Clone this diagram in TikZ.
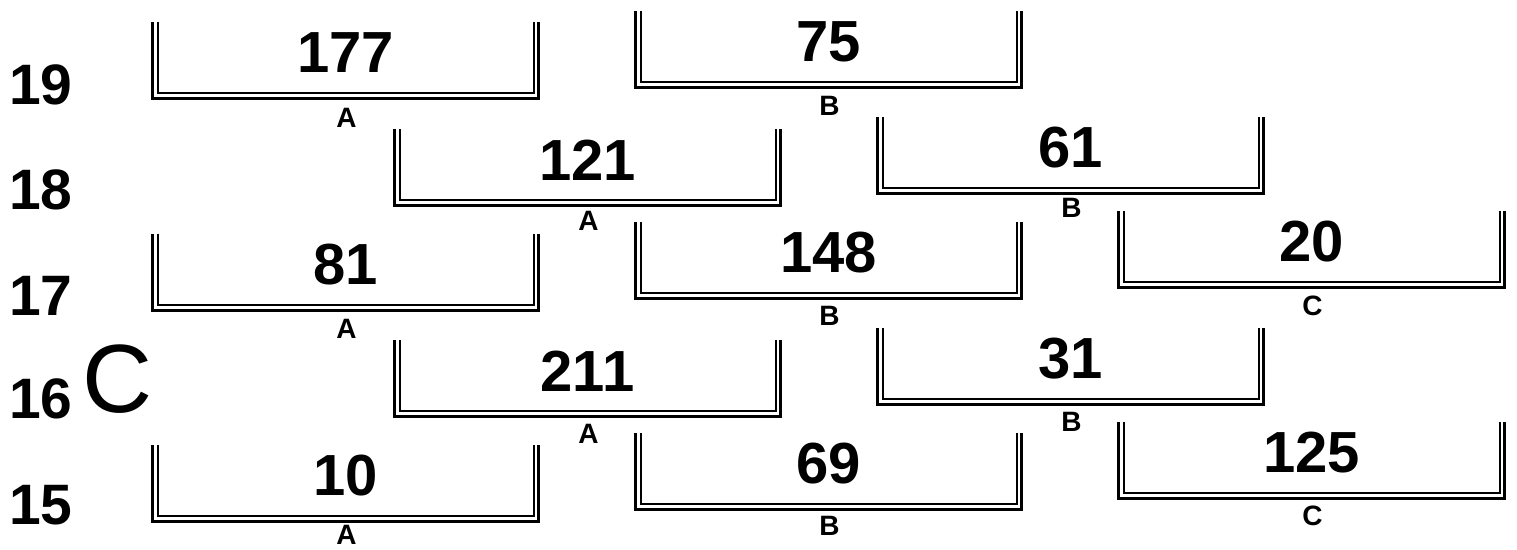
\documentclass[tikz,border=0pt]{standalone}
\usepackage{fontspec}
\setmainfont{Liberation Sans}
\tikzset{
  outerwall/.style={line width=3pt, line cap=butt, line join=miter},
  innerwall/.style={line width=2pt, line cap=butt, line join=miter},
  num/.style={font=\fontsize{58}{60}\selectfont\bfseries, inner sep=0pt},
  lab/.style={font=\fontsize{28}{30}\selectfont\bfseries, inner sep=0pt},
  rowlab/.style={font=\fontsize{57}{60}\selectfont\bfseries, inner sep=0pt},
  bigc/.style={font=\fontsize{97}{100}\selectfont, inner sep=0pt}
}
\newcommand\drawtray[6]{%
  \draw[outerwall] (#2,#3-76) -- (#2,#3) -- (#2+386,#3) -- (#2+386,#3-76);
  \draw[innerwall] (#2+5,#3-76) -- (#2+5,#3-5) -- (#2+381,#3-5) -- (#2+381,#3-76);
  \node[num] (#1num) at (#2+193,#3-45) {#4};
  \node[lab] (#1lab) at (#2+194,#6) {#5};
}
\begin{document}
\begin{tikzpicture}[x=1pt,y=-1pt]
\useasboundingbox (0,0) rectangle (1517,549);
% row labels
\node[rowlab] (r19) at (41,85) {19};
\node[rowlab] (r18) at (41,190) {18};
\node[rowlab] (r17) at (41,296) {17};
\node[rowlab] (r16) at (41,399) {16};
\node[rowlab] (r15) at (41,505) {15};
\node[bigc] (bigC) at (117.5,379.5) {C};
% trays
\drawtray{t19a}{152.5}{98}{177}{A}{118}
\drawtray{t19b}{635.5}{87}{75}{B}{106}
\drawtray{t18a}{394.5}{205}{121}{A}{221}
\drawtray{t18b}{877.5}{193}{61}{B}{208}
\drawtray{t17a}{152.5}{310}{81}{A}{329}
\drawtray{t17b}{635.5}{298}{148}{B}{316}
\drawtray{t17c}{1118.5}{287}{20}{C}{306}
\drawtray{t16a}{394.5}{416}{211}{A}{434}
\drawtray{t16b}{877.5}{404}{31}{B}{422}
\drawtray{t15a}{152.5}{521}{10}{A}{535}
\drawtray{t15b}{635.5}{509}{69}{B}{526}
\drawtray{t15c}{1118.5}{498}{125}{C}{516}
\end{tikzpicture}
\end{document}
